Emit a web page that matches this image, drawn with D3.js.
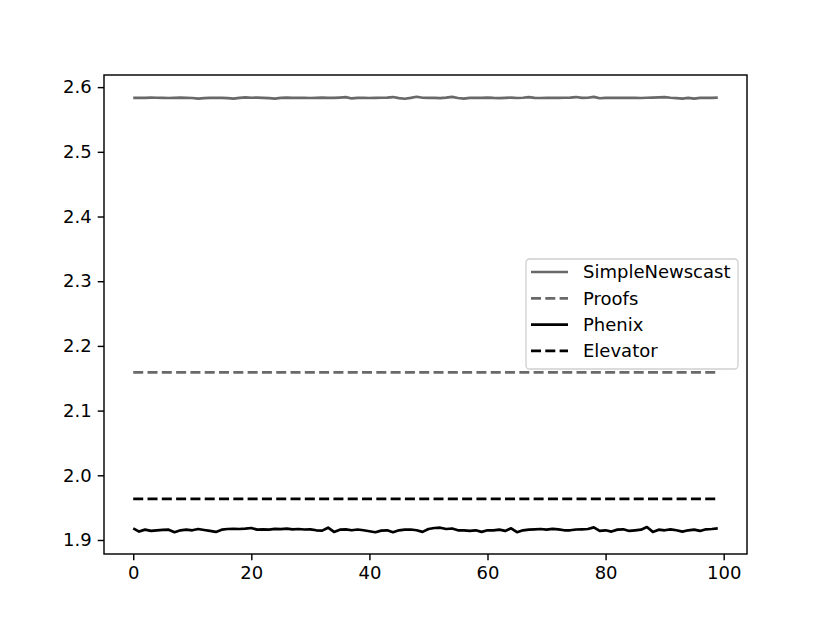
<!DOCTYPE html>
<meta charset="utf-8">
<style>
    body { margin: 0; background: #fff; }
    text { font-family: "DejaVu Sans", sans-serif; }
</style>
<body>
<svg id="chart" width="830" height="623"></svg>
</body>
<script src="https://cdn.jsdelivr.net/npm/d3@7"></script>
<script>

    // values
    var simpleNewscast = [
        2.5835, 2.5836, 2.5834, 2.5838, 2.5836, 2.5833, 2.5832, 2.5835, 2.5837, 2.5834,
        2.5832, 2.5822, 2.5830, 2.5834, 2.5836, 2.5835, 2.5830, 2.5822, 2.5835, 2.5842,
        2.5836, 2.5838, 2.5833, 2.5830, 2.5823, 2.5833, 2.5837, 2.5835, 2.5834, 2.5836,
        2.5832, 2.5835, 2.5838, 2.5833, 2.5834, 2.5839, 2.5846, 2.5825, 2.5833, 2.5834,
        2.5832, 2.5834, 2.5836, 2.5838, 2.5847, 2.5830, 2.5820, 2.5834, 2.5851, 2.5836,
        2.5833, 2.5834, 2.5830, 2.5838, 2.5849, 2.5832, 2.5822, 2.5834, 2.5836, 2.5835,
        2.5838, 2.5833, 2.5831, 2.5835, 2.5837, 2.5832, 2.5836, 2.5845, 2.5834, 2.5832,
        2.5833, 2.5835, 2.5834, 2.5836, 2.5838, 2.5847, 2.5834, 2.5836, 2.5850, 2.5828,
        2.5833, 2.5835, 2.5834, 2.5833, 2.5836, 2.5835, 2.5832, 2.5836, 2.5838, 2.5842,
        2.5846, 2.5836, 2.5830, 2.5822, 2.5834, 2.5823, 2.5833, 2.5836, 2.5834, 2.5837
    ];

    var phenix = [
        1.9180, 1.9130, 1.9160, 1.9140, 1.9150, 1.9155, 1.9160, 1.9120, 1.9150, 1.9160,
        1.9150, 1.9170, 1.9155, 1.9140, 1.9125, 1.9160, 1.9170, 1.9172, 1.9170, 1.9175,
        1.9185, 1.9160, 1.9165, 1.9160, 1.9172, 1.9168, 1.9175, 1.9165, 1.9170, 1.9162,
        1.9165, 1.9150, 1.9145, 1.9190, 1.9125, 1.9160, 1.9165, 1.9150, 1.9162, 1.9150,
        1.9135, 1.9120, 1.9145, 1.9150, 1.9120, 1.9150, 1.9160, 1.9162, 1.9150, 1.9125,
        1.9170, 1.9185, 1.9190, 1.9170, 1.9178, 1.9150, 1.9148, 1.9140, 1.9150, 1.9125,
        1.9150, 1.9148, 1.9160, 1.9140, 1.9180, 1.9120, 1.9150, 1.9160, 1.9165, 1.9170,
        1.9160, 1.9172, 1.9165, 1.9150, 1.9150, 1.9162, 1.9165, 1.9170, 1.9195, 1.9140,
        1.9150, 1.9130, 1.9160, 1.9165, 1.9140, 1.9150, 1.9160, 1.9200, 1.9125, 1.9160,
        1.9150, 1.9165, 1.9150, 1.9130, 1.9150, 1.9160, 1.9140, 1.9165, 1.9170, 1.9180
    ];

    var proofsValue = 2.159;
    var elevatorValue = 1.9635;

    var xTicks = [0, 20, 40, 60, 80, 100];
    var yTicks = [1.9, 2.0, 2.1, 2.2, 2.3, 2.4, 2.5, 2.6];

    var seriesNames = ["SimpleNewscast", "Proofs", "Phenix", "Elevator"];
    var seriesValues = [
        simpleNewscast,
        simpleNewscast.map(function () { return proofsValue; }),
        phenix,
        phenix.map(function () { return elevatorValue; })
    ];

    var styles = [
        {color: "#696969", dash: null},
        {color: "#696969", dash: "10,4.3"},
        {color: "#000000", dash: null},
        {color: "#000000", dash: "10,4.3"}
    ];

    var width = 830, height = 623;
    var margin = {left: 104, right: 83, top: 75, bottom: 69};
    var plotW = width - margin.left - margin.right;
    var plotH = height - margin.top - margin.bottom;

    var svg = d3.select("#chart");
    var g = svg.append("g").attr("transform", "translate(" + margin.left + "," + margin.top + ")");

    // matplotlib-style 5% margins
    var n = simpleNewscast.length;
    var xPad = (n - 1) * 0.05;
    var allVals = d3.merge(seriesValues);
    var yMin = d3.min(allVals), yMax = d3.max(allVals);
    var yPad = (yMax - yMin) * 0.05;

    var x = d3.scaleLinear().domain([-xPad, n - 1 + xPad]).range([0, plotW]);
    var y = d3.scaleLinear().domain([yMin - yPad, yMax + yPad]).range([plotH, 0]);

    var line = d3.line()
        .x(function (d, i) { return x(i); })
        .y(function (d) { return y(d); });

    seriesValues.forEach(function (vals, k) {
        g.append("path")
            .datum(vals)
            .attr("d", line)
            .attr("fill", "none")
            .attr("stroke", styles[k].color)
            .attr("stroke-width", 2.7)
            .attr("stroke-dasharray", styles[k].dash)
            .attr("stroke-linejoin", "round");
    });

    // axes
    var xAxis = g.append("g")
        .attr("transform", "translate(0," + plotH + ")")
        .call(d3.axisBottom(x).tickValues(xTicks).tickSize(6.3).tickPadding(6).tickFormat(d3.format("d")));
    var yAxis = g.append("g")
        .call(d3.axisLeft(y).tickValues(yTicks).tickSize(6.3).tickPadding(6).tickFormat(d3.format(".1f")));

    [xAxis, yAxis].forEach(function (ax) {
        ax.select(".domain").remove();
        ax.selectAll(".tick line").attr("stroke", "#000").attr("stroke-width", 1.44);
        ax.selectAll(".tick text")
            .attr("fill", "#000")
            .style("font-size", "18px")
            .style("font-family", "'DejaVu Sans', sans-serif");
    });

    g.append("rect")
        .attr("x", 0).attr("y", 0)
        .attr("width", plotW).attr("height", plotH)
        .attr("fill", "none")
        .attr("stroke", "#000")
        .attr("stroke-width", 1.44);

    // legend
    var legend = svg.append("g").attr("transform", "translate(526,259)");
    legend.append("rect")
        .attr("width", 212).attr("height", 110)
        .attr("rx", 3.5)
        .attr("fill", "#fff").attr("fill-opacity", 0.8)
        .attr("stroke", "#d0d0d0").attr("stroke-width", 1.3);

    seriesNames.forEach(function (name, k) {
        var row = legend.append("g").attr("transform", "translate(0," + (13 + k * 26.3) + ")");
        row.append("line")
            .attr("x1", 5).attr("x2", 42)
            .attr("stroke", styles[k].color)
            .attr("stroke-width", 2.7)
            .attr("stroke-dasharray", styles[k].dash);
        row.append("text")
            .attr("x", 57).attr("y", 0)
            .attr("dy", "0.35em")
            .style("font-size", "18px")
            .attr("fill", "#000")
            .text(name);
    });

</script>
